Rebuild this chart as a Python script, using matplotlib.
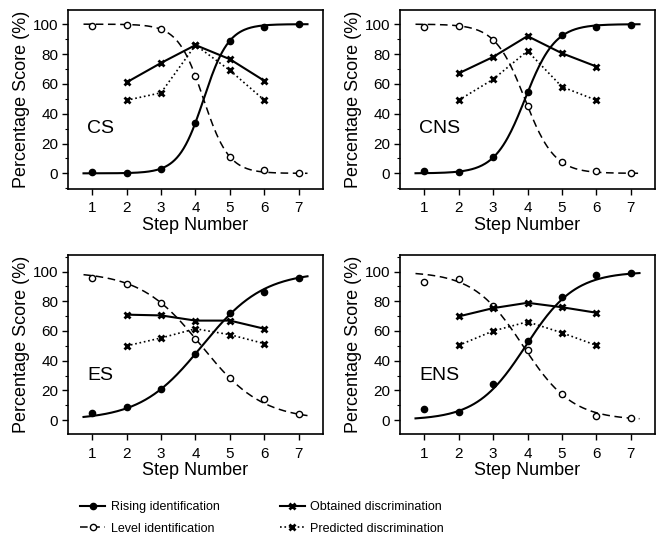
import numpy as np
import matplotlib
matplotlib.use('Agg')
import matplotlib.pyplot as plt
from matplotlib.lines import Line2D
from matplotlib.ticker import MultipleLocator

plt.rcParams['font.family'] = ['Liberation Sans', 'DejaVu Sans']

steps = [1, 2, 3, 4, 5, 6, 7]
disc_steps = [2, 3, 4, 5, 6]
panels = ['CS', 'CNS', 'ES', 'ENS']

# identification scores (%)
rising_cs = [1, 0.5, 3, 34, 89, 98, 100]
level_cs = [99, 99.5, 97, 65, 11, 2, 0.5]
rising_cns = [1.8, 1, 11, 54.6, 92.6, 98.4, 99.5]
level_cns = [98.4, 99, 89.5, 45.4, 7.4, 1.8, 0.4]
rising_es = [4.5, 8.8, 20.8, 44.7, 72.3, 86, 96]
level_es = [95.7, 91.7, 79, 54.8, 28, 13.9, 4]
rising_ens = [7.2, 5.1, 24, 53, 82.8, 97.8, 98.9]
level_ens = [93.3, 95, 76.7, 47.4, 17.4, 2.9, 1.6]

# discrimination scores (%)
obtained_cs = [61, 74, 86, 76.5, 62]
predicted_cs = [49, 54, 86, 69, 49]
obtained_cns = [67, 78, 92, 80.5, 71.6]
predicted_cns = [49, 63, 82, 58, 49]
obtained_es = [71, 70.5, 67, 67, 61.5]
predicted_es = [50, 55.3, 61.5, 57.5, 51.5]
obtained_ens = [69.8, 75.4, 79, 76, 72.3]
predicted_ens = [50.3, 60, 66.2, 58.8, 50.3]

# fitted logistic curves: (midpoint, slope) per panel
rising_fit = {'CS': (4.24, 2.75), 'CNS': (3.93, 2.3), 'ES': (4.19, 1.12), 'ENS': (3.95, 1.4)}
level_fit = {'CS': (4.23, -2.71), 'CNS': (3.92, -2.33), 'ES': (4.17, -1.13), 'ENS': (3.87, -1.39)}

rising = {'CS': rising_cs, 'CNS': rising_cns, 'ES': rising_es, 'ENS': rising_ens}
level = {'CS': level_cs, 'CNS': level_cns, 'ES': level_es, 'ENS': level_ens}
obtained = {'CS': obtained_cs, 'CNS': obtained_cns, 'ES': obtained_es, 'ENS': obtained_ens}
predicted = {'CS': predicted_cs, 'CNS': predicted_cns, 'ES': predicted_es, 'ENS': predicted_ens}


def logistic(x, mid, k):
    return 100.0 / (1.0 + np.exp(-k * (x - mid)))


W, H = 659, 538
fig = plt.figure(figsize=(W / 100, H / 100), dpi=100)

boxes = [(68, 10, 323, 189), (400, 10, 655, 189),
         (68, 255, 323, 434), (400, 255, 655, 434)]
ylims = [(-10.5, 109.5), (-10.5, 109.5), (-9.4, 111.2), (-9.4, 111.2)]

xs = np.linspace(0.75, 7.25, 200)
dash = (0, (5, 3))

for name, (l, t, r, b), yl in zip(panels, boxes, ylims):
    ax = fig.add_axes([l / W, 1 - b / H, (r - l) / W, (b - t) / H])
    c = 'black'
    ax.plot(xs, logistic(xs, *rising_fit[name]), color=c, lw=1.5)
    ax.plot(steps, rising[name], 'o', color=c, ms=4.5)
    ax.plot(xs, logistic(xs, *level_fit[name]), color=c, lw=1.1, linestyle=dash)
    ax.plot(steps, level[name], 'o', mfc='white', mec=c, mew=1.0, ms=4.5)
    ax.plot(disc_steps, obtained[name], '-x', color=c, lw=1.5, ms=4, mew=2)
    ax.plot(disc_steps, predicted[name], ':x', color=c, lw=1.2, ms=4, mew=2)

    ax.text(0.85, 30, name, fontsize=14, va='center', ha='left')
    ax.set_xlim(0.3, 7.7)
    ax.set_ylim(*yl)
    ax.set_xticks(steps)
    ax.set_yticks([0, 20, 40, 60, 80, 100])
    ax.yaxis.set_minor_locator(MultipleLocator(10))
    ax.tick_params(direction='out', length=4, width=1, labelsize=11, pad=3,
                   top=False, right=False)
    ax.tick_params(which='minor', length=2, width=0.8)
    ax.xaxis.set_tick_params(pad=5)
    for sp in ax.spines.values():
        sp.set_linewidth(1.2)
    ax.set_xlabel('Step Number', fontsize=13, labelpad=1)
    ax.set_ylabel('Percentage Score (%)', fontsize=13, labelpad=2)

handles = [
    Line2D([], [], color='black', lw=1.5, marker='o', ms=4.5),
    Line2D([], [], color='black', lw=1.1, linestyle=dash, marker='o', mfc='white', ms=4.5),
    Line2D([], [], color='black', lw=1.5, marker='x', ms=4, mew=2),
    Line2D([], [], color='black', lw=1.2, linestyle=':', marker='x', ms=4, mew=2),
]
labels = ['Rising identification', 'Level identification',
          'Obtained discrimination', 'Predicted discrimination']
fig.legend(handles, labels, loc='center', bbox_to_anchor=(262 / W, 1 - 518 / H),
           ncol=2, frameon=False, fontsize=9, handlelength=2.0,
           handletextpad=0.45, columnspacing=4.8, labelspacing=0.75,
           borderpad=0.0)

fig.savefig('out.png', dpi=100)
